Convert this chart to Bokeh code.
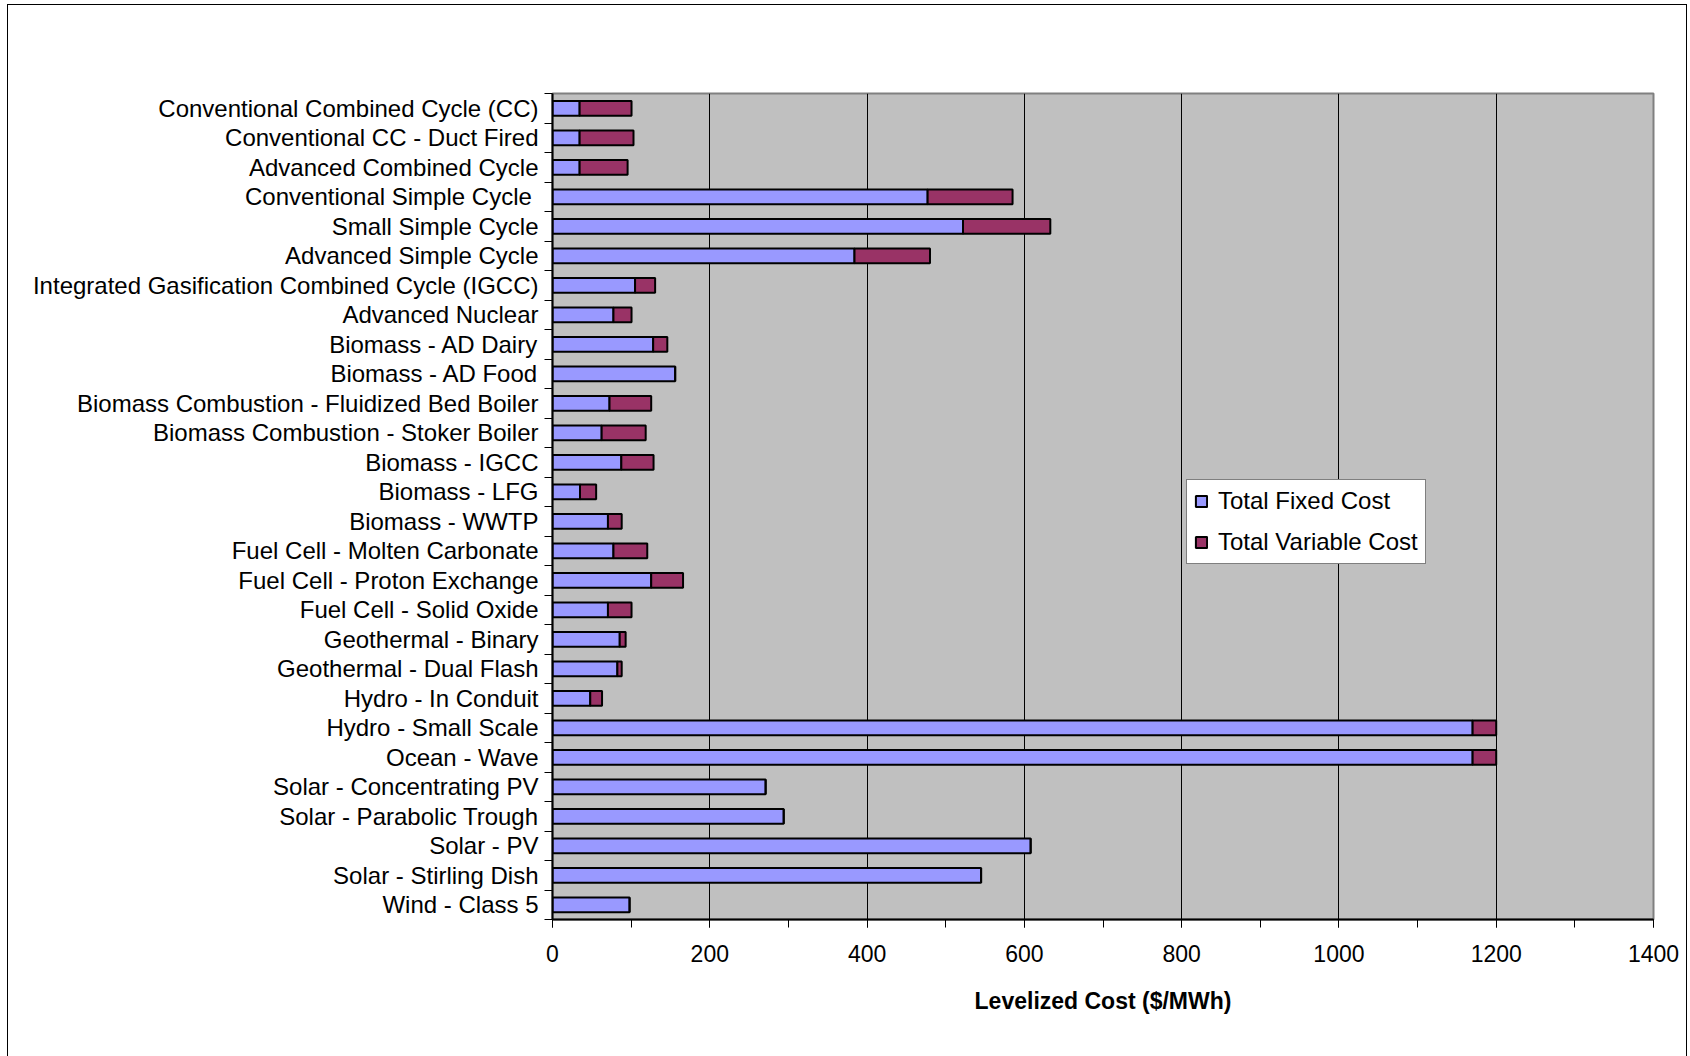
from bokeh.plotting import figure
from bokeh.models import (ColumnDataSource, Range1d, FixedTicker, SingleIntervalTicker,
                          Legend, LegendItem, InlineStyleSheet)
from bokeh.embed import file_html
from bokeh.resources import INLINE

# Generation technologies, listed top to bottom
technologies = [
    "Conventional Combined Cycle (CC)",
    "Conventional CC - Duct Fired",
    "Advanced Combined Cycle",
    "Conventional Simple Cycle ",
    "Small Simple Cycle",
    "Advanced Simple Cycle",
    "Integrated Gasification Combined Cycle (IGCC)",
    "Advanced Nuclear",
    "Biomass - AD Dairy",
    "Biomass - AD Food",
    "Biomass Combustion - Fluidized Bed Boiler",
    "Biomass Combustion - Stoker Boiler",
    "Biomass - IGCC",
    "Biomass - LFG",
    "Biomass - WWTP",
    "Fuel Cell - Molten Carbonate",
    "Fuel Cell - Proton Exchange",
    "Fuel Cell - Solid Oxide",
    "Geothermal - Binary",
    "Geothermal - Dual Flash",
    "Hydro - In Conduit",
    "Hydro - Small Scale",
    "Ocean - Wave",
    "Solar - Concentrating PV",
    "Solar - Parabolic Trough",
    "Solar - PV",
    "Solar - Stirling Dish",
    "Wind - Class 5",
]

# Levelized cost components ($/MWh)
fixed_cost = [34.5, 34.5, 34.5, 477, 522, 384, 105, 77.5, 128, 156,
              72.5, 62.5, 87.5, 35, 70.5, 77.5, 125.5, 70.5, 85.5, 82.5,
              48, 1170, 1170, 271, 294, 608, 545, 98]
variable_cost = [66, 68.5, 61, 108, 111, 96, 25.5, 23, 18, 0,
                 53, 56, 41, 20.5, 17.5, 43, 40.5, 30, 7.5, 5.5,
                 15, 30, 30, 0, 0, 0, 0, 0]

x_ticks_major = 200
x_max = 1400

n = len(technologies)
ypos = [n - i for i in range(n)]
total_end = [f + v for f, v in zip(fixed_cost, variable_cost)]

src = ColumnDataSource(dict(y=ypos, zero=[0] * n, fixed=fixed_cost, total=total_end))

FONT = "Liberation Sans"
FS = "24px"

p = figure(
    width=1690, height=1056,
    frame_width=1101, frame_height=826,
    min_border_left=552, min_border_top=93, min_border_right=37, min_border_bottom=137,
    x_range=Range1d(0, x_max), y_range=Range1d(0.5, n + 0.5),
    output_backend="svg", toolbar_location=None,
    background_fill_color="#C0C0C0", border_fill_color="white",
)
p.outline_line_color = "#808080"
p.outline_line_width = 2

fixed_r = p.hbar(y="y", left="zero", right="fixed", height=0.5, source=src,
                 fill_color="#9999FF", line_color="black", line_width=2)
var_r = p.hbar(y="y", left="fixed", right="total", height=0.5, source=src,
               fill_color="#993366", line_color="black", line_width=2)

# x axis
xa = p.xaxis[0]
xa.ticker = SingleIntervalTicker(interval=x_ticks_major, num_minor_ticks=2)
xa.axis_line_color = "black"
xa.axis_line_width = 2
xa.major_tick_in = 0
xa.major_tick_out = 8
xa.minor_tick_in = 0
xa.minor_tick_out = 8
xa.major_tick_line_color = "black"
xa.minor_tick_line_color = "black"
xa.major_label_text_font = FONT
xa.major_label_text_font_size = "23px"
xa.major_label_text_color = "black"
xa.major_label_standoff = 17
xa.axis_label = "Levelized Cost ($/MWh)"
xa.axis_label_text_font = FONT
xa.axis_label_text_font_size = "23px"
xa.axis_label_text_font_style = "bold"
xa.axis_label_text_color = "black"
xa.axis_label_standoff = 23

# y axis: labels at row centres, ticks at row boundaries
ya = p.yaxis[0]
ya.ticker = FixedTicker(ticks=ypos, minor_ticks=[k + 0.5 for k in range(n + 1)])
ya.major_label_overrides = {yv: name for yv, name in zip(ypos, technologies)}
ya.major_tick_in = 0
ya.major_tick_out = 0
ya.minor_tick_in = 0
ya.minor_tick_out = 8
ya.minor_tick_line_color = "black"
ya.axis_line_color = "black"
ya.axis_line_width = 2
ya.major_label_text_font = FONT
ya.major_label_text_font_size = FS
ya.major_label_text_color = "black"
ya.major_label_standoff = 6

p.xgrid.ticker = SingleIntervalTicker(interval=x_ticks_major)
p.xgrid.grid_line_color = "black"
p.xgrid.grid_line_width = 1
p.ygrid.grid_line_color = None

legend = Legend(
    items=[LegendItem(label="Total Fixed Cost", renderers=[fixed_r]),
           LegendItem(label="Total Variable Cost", renderers=[var_r])],
    location=(634, 355),
    label_text_font=FONT, label_text_font_size=FS, label_text_color="black",
    glyph_width=14, glyph_height=14, label_standoff=10,
    spacing=13, padding=7, margin=0,
    border_line_color="black", border_line_width=1,
    background_fill_color="white", background_fill_alpha=1,
)
p.add_layout(legend)

# thin frame around the whole chart
p.stylesheets = [InlineStyleSheet(css="""
:host { position: relative; }
:host::after {
  content: ""; position: absolute; left: 7px; top: 4px; right: 3px; bottom: 0px;
  border: 1px solid black; border-bottom: none; pointer-events: none;
}
""")]

open("out.html", "w").write(file_html(p, INLINE))
